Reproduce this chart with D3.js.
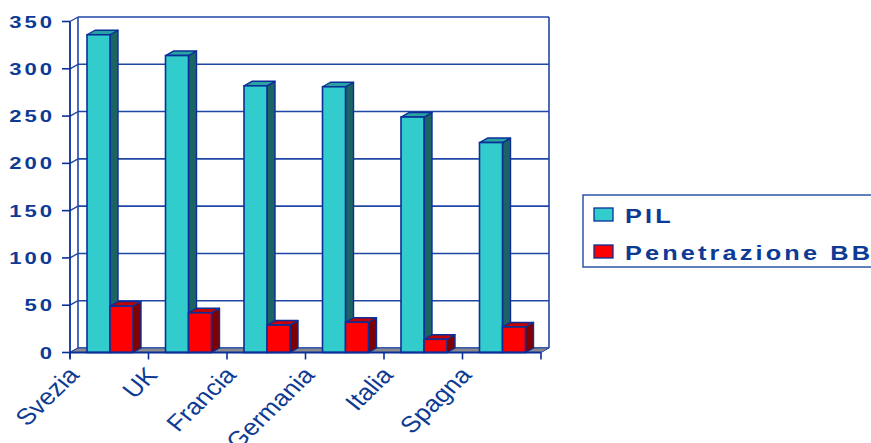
<!DOCTYPE html>
<html><head><meta charset="utf-8">
<script src="https://cdn.jsdelivr.net/npm/d3@7"></script>
<style>html,body{margin:0;padding:0;background:#fff;overflow:hidden}</style>
</head><body>
<svg id="c" width="871" height="443"></svg>
<script>
const categories = ["Svezia","UK","Francia","Germania","Italia","Spagna"];
const seriesNames = ["PIL","Penetrazione BB"];
const pil = [336, 314, 282, 281, 249, 222];
const penetrazione = [49, 42, 29, 32, 14, 27];
const yTicks = [0,50,100,150,200,250,300,350];

const svg = d3.select("#c");
const DX = 8, DY = -4.5;
const textCol = "#0d3a94", lineCol = "#1f47a6", outline = "#0a2f99";
const fillFront = {"PIL":"#33cccc","Penetrazione BB":"#ff0000"};
const fillSide = {"PIL":"#1c6464","Penetrazione BB":"#7f0000"};
const fillTop = {"PIL":"#2aa3a3","Penetrazione BB":"#c40000"};

const y = d3.scaleLinear().domain([0,350]).range([352.5,21.5]);
const x = d3.scaleBand().domain(categories).range([70,541]);
const bw = x.bandwidth();
const xs = d3.scaleBand().domain(seriesNames).range([0.2166*bw, 0.2166*bw + 0.586*bw]);

const g = svg.append("g");
yTicks.forEach(t=>{
  g.append("line").attr("x1",70+DX).attr("x2",541+DX).attr("y1",y(t)+DY).attr("y2",y(t)+DY)
   .attr("stroke",lineCol).attr("stroke-width",1.6);
  g.append("line").attr("x1",70).attr("x2",70+DX).attr("y1",y(t)).attr("y2",y(t)+DY)
   .attr("stroke",lineCol).attr("stroke-width",1.4);
  g.append("line").attr("x1",62).attr("x2",70).attr("y1",y(t)).attr("y2",y(t))
   .attr("stroke",outline).attr("stroke-width",1.6);
});
g.append("line").attr("x1",70+DX).attr("x2",70+DX).attr("y1",y(0)+DY).attr("y2",y(350)+DY).attr("stroke",lineCol).attr("stroke-width",1.6);
g.append("line").attr("x1",541+DX).attr("x2",541+DX).attr("y1",y(0)+DY).attr("y2",y(350)+DY).attr("stroke",lineCol).attr("stroke-width",1.6);
g.append("polygon").attr("points",[[70,y(0)],[541,y(0)],[541+DX,y(0)+DY],[70+DX,y(0)+DY]].map(p=>p.join(",")).join(" "))
 .attr("fill","#8a8a8a").attr("stroke",lineCol).attr("stroke-width",1);
g.append("line").attr("x1",70).attr("x2",70).attr("y1",y(0)+6).attr("y2",y(350)).attr("stroke",outline).attr("stroke-width",1.8);

const data = [];
categories.forEach((c,i)=>{
  data.push({c, s:"PIL", v:pil[i]});
  data.push({c, s:"Penetrazione BB", v:penetrazione[i]});
});
const bars = g.selectAll("g.bar").data(data).join("g").attr("class","bar");
bars.each(function(d){
  const sel = d3.select(this);
  const x0 = x(d.c)+xs(d.s), w = xs.bandwidth(), y0 = y(0), y1 = y(d.v);
  const pts = a=>a.map(p=>p.join(",")).join(" ");
  sel.append("polygon").attr("points",pts([[x0+w,y1],[x0+w+DX,y1+DY],[x0+w+DX,y0+DY],[x0+w,y0]]))
    .attr("fill",fillSide[d.s]).attr("stroke",outline).attr("stroke-width",1.4).attr("stroke-linejoin","round");
  sel.append("polygon").attr("points",pts([[x0,y1],[x0+DX,y1+DY],[x0+w+DX,y1+DY],[x0+w,y1]]))
    .attr("fill",fillTop[d.s]).attr("stroke",outline).attr("stroke-width",1.4).attr("stroke-linejoin","round");
  sel.append("rect").attr("x",x0).attr("y",y1).attr("width",w).attr("height",y0-y1)
    .attr("fill",fillFront[d.s]).attr("stroke",outline).attr("stroke-width",1.6);
});

g.append("line").attr("x1",70).attr("x2",541).attr("y1",y(0)).attr("y2",y(0)).attr("stroke",outline).attr("stroke-width",2);
const tickXs = categories.map(c=>x(c)).concat([x(categories[categories.length-1])+bw]);
tickXs.forEach(tx=>{
  g.append("line").attr("x1",tx).attr("x2",tx).attr("y1",y(0)).attr("y2",y(0)+7).attr("stroke",outline).attr("stroke-width",1.6);
});

yTicks.forEach(t=>{
  svg.append("text").attr("transform",`translate(55,${y(t)+6}) scale(1.3,1)`)
    .attr("text-anchor","end").attr("font-family","Liberation Sans, Arial, sans-serif")
    .attr("font-weight","bold").attr("font-size",17).attr("letter-spacing",2.3)
    .attr("fill",textCol).text(t);
});
categories.forEach(c=>{
  const cx = x(c)+bw/2 - 29;
  svg.append("text").attr("transform",`translate(${cx},376) scale(1.15,1) rotate(-48)`)
    .attr("text-anchor","end").attr("font-family","Liberation Sans, Arial, sans-serif")
    .attr("font-size",23).attr("fill",textCol).text(c);
});

const lg = svg.append("g");
lg.append("rect").attr("x",583).attr("y",195).attr("width",300).attr("height",72)
  .attr("fill","#fff").attr("stroke","#2f55a8").attr("stroke-width",1.5);
seriesNames.forEach((s,i)=>{
  const yy = 208 + i*37;
  lg.append("rect").attr("x",594).attr("y",yy).attr("width",19).attr("height",13)
    .attr("fill",fillFront[s]).attr("stroke",outline).attr("stroke-width",1.3);
  lg.append("text").attr("transform",`translate(625,${yy+15}) scale(1.3,1)`)
    .attr("font-family","Liberation Sans, Arial, sans-serif").attr("font-weight","bold")
    .attr("font-size",19.5).attr("letter-spacing",2.4).attr("fill",textCol).text(s);
});
</script>
</body></html>
